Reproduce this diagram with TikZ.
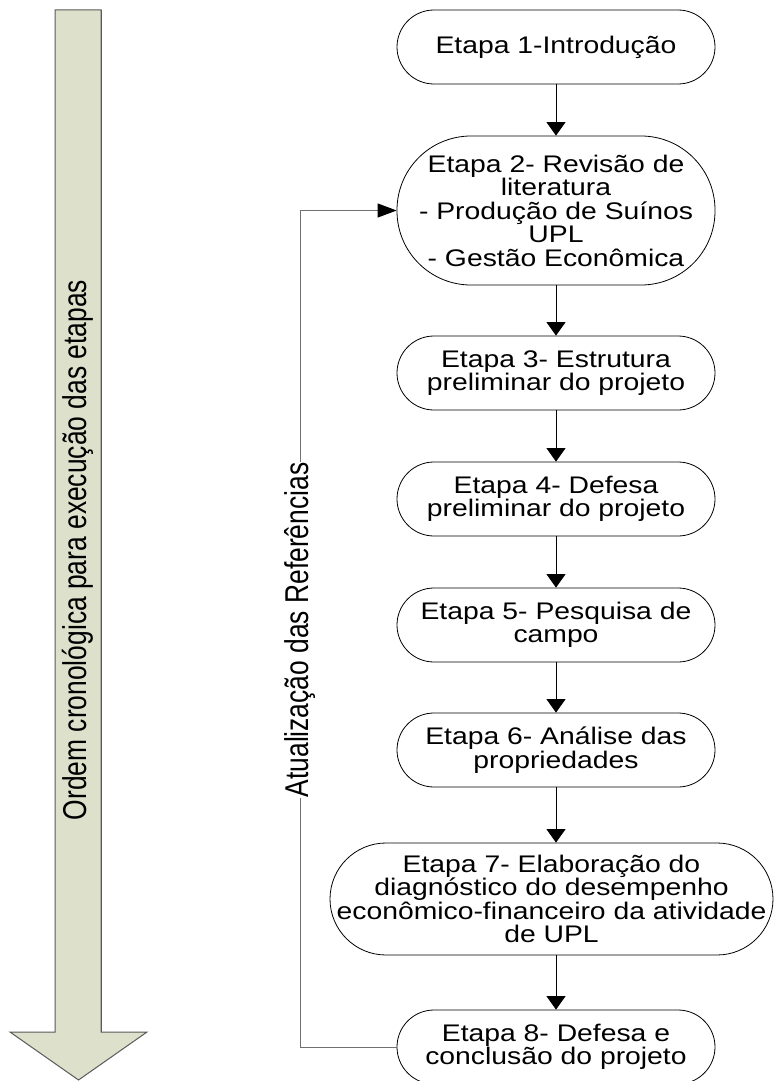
\documentclass[tikz,border=0pt]{standalone}
\usepackage{fontspec}
\setmainfont{Liberation Sans}
\newfontfamily\nodefont{Liberation Sans}[FakeStretch=1.18]
\newfontfamily\vertfont{Liberation Sans}[FakeStretch=0.8]
\usetikzlibrary{arrows.meta}
\definecolor{arrowfill}{HTML}{DDE0CA}
\definecolor{arrowline}{HTML}{5A5A5A}
\definecolor{fbline}{HTML}{707070}
\begin{document}
\begin{tikzpicture}[x=1pt,y=-1pt,
  stage/.style={draw=black, line width=0.8pt, rounded corners=37pt,
    minimum width=318pt, minimum height=74pt, inner sep=0pt, align=center,
    font={\nodefont\fontsize{24}{23.5}\selectfont}},
  flow/.style={draw=black, line width=0.8pt, -{Triangle[width=19pt,length=13.5pt]}},
  fb/.style={draw=fbline, line width=1pt, -{Triangle[width=14pt,length=19pt,black]}},
  vlabel/.style={rotate=90, inner xsep=1pt, inner ysep=0pt,
    font={\vertfont\fontsize{33}{33}\selectfont}}
]
\useasboundingbox (0,0) rectangle (774,1081);
% big chronological arrow
\draw[fill=arrowfill, draw=arrowline, line width=1pt, line join=miter]
  (55,10) -- (101,10) -- (101,1032) -- (147,1032) -- (78.5,1080)
  -- (10,1032) -- (55,1032) -- cycle;
\draw[arrowline, line width=1.5pt] (101.5,10.5) -- (101.5,1032);
\node[vlabel] (ordem) at (78,550) {Ordem cronológica para execução das etapas};
% stages
\node[stage] (n1) at (556,47) {Etapa 1-Introdução};
\node[stage, minimum height=149pt, rounded corners=74pt] (n2) at (556,210.5)
  {Etapa 2- Revisão de\\literatura\\- Produção de Suínos\\UPL\\- Gestão Econômica};
\node[stage] (n3) at (556,373) {Etapa 3- Estrutura\\preliminar do projeto};
\node[stage] (n4) at (556,499) {Etapa 4- Defesa\\preliminar do projeto};
\node[stage] (n5) at (556,625) {Etapa 5- Pesquisa de\\campo};
\node[stage] (n6) at (556,750) {Etapa 6- Análise das\\propriedades};
\node[stage, minimum width=443pt, minimum height=112pt, rounded corners=56pt] (n7) at (551.5,899)
  {Etapa 7- Elaboração do\\diagnóstico do desempenho\\econômico-financeiro da atividade\\de UPL};
\node[stage] (n8) at (556,1047) {Etapa 8- Defesa e\\conclusão do projeto};
% flow arrows
\draw[flow] (n1.south) -- (n2.north);
\draw[flow] (n2.south) -- (n3.north);
\draw[flow] (n3.south) -- (n4.north);
\draw[flow] (n4.south) -- (n5.north);
\draw[flow] (n5.south) -- (n6.north);
\draw[flow] (n6.south) -- (n7.north -| n6.south);
\draw[flow] (n7.south -| n8.north) -- (n8.north);
% feedback
\coordinate (fbx) at (300,0);
\draw[fb] (n8.west) -- (n8.west -| fbx) |- (n2.west);
\node[vlabel, fill=white] (atual) at (300,630) {Atualização das Referências};
\end{tikzpicture}
\end{document}
